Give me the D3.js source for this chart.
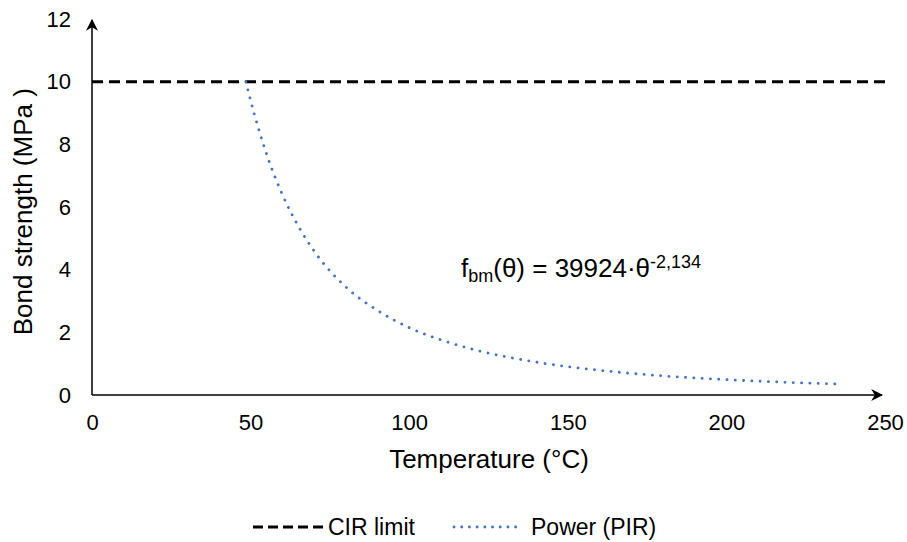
<!DOCTYPE html>
<html>
<head>
<meta charset="utf-8">
<script src="https://cdn.jsdelivr.net/npm/d3@7/dist/d3.min.js"></script>
<style>
  body { margin: 0; background: #fff; }
  #chart { width: 907px; height: 542px; }
  text { font-family: "Liberation Sans", Arial, sans-serif; fill: #000; }
</style>
</head>
<body>
<div id="chart"></div>
<script>
// values
var xTicks = [0, 50, 100, 150, 200, 250];
var yTicks = [0, 2, 4, 6, 8, 10, 12];
var cirLimit = [[0, 10], [250, 10]];
var powerTemp = [48.5, 50, 55, 60, 65, 70, 80, 90, 100, 110, 120, 140, 160, 180, 200, 220, 235];
var powerBond = [10.0, 9.4, 7.7, 6.4, 5.4, 4.6, 3.45, 2.7, 2.15, 1.76, 1.46, 1.05, 0.79, 0.61, 0.49, 0.40, 0.35];
var legendNames = ["CIR limit", "Power (PIR)"];

var width = 907, height = 542;
var margin = {top: 19, left: 92, right: 22, bottom: 147};

var svg = d3.select("#chart").append("svg")
    .attr("width", width)
    .attr("height", height);

var xScale = d3.scaleLinear()
    .domain([0, 250])
    .range([margin.left, width - margin.right]);

var yScale = d3.scaleLinear()
    .domain([0, 12])
    .range([height - margin.bottom, margin.top]);

// arrow heads
var defs = svg.append("defs");
defs.append("marker")
    .attr("id", "arrow")
    .attr("viewBox", "0 0 10 10")
    .attr("refX", 9).attr("refY", 5)
    .attr("markerWidth", 12).attr("markerHeight", 12)
    .attr("markerUnits", "userSpaceOnUse")
    .attr("orient", "auto")
  .append("path")
    .attr("d", "M0,0 L10,5 L0,10 L3,5 Z")
    .attr("fill", "#000");

// axes (labels only, domain drawn as arrows)
var xAxis = svg.append("g")
    .attr("transform", "translate(0," + yScale(0) + ")")
    .call(d3.axisBottom(xScale).tickValues(xTicks).tickSize(0).tickPadding(19));
xAxis.select(".domain").remove();
xAxis.selectAll(".tick text")
    .style("font-size", "22px")
    .style("font-family", "Liberation Sans, Arial, sans-serif");

var yAxis = svg.append("g")
    .attr("transform", "translate(" + xScale(0) + ",0)")
    .call(d3.axisLeft(yScale).tickValues(yTicks).tickSize(0).tickPadding(21));
yAxis.select(".domain").remove();
yAxis.selectAll(".tick text")
    .style("font-size", "22px")
    .style("font-family", "Liberation Sans, Arial, sans-serif");

svg.append("line")
    .attr("x1", xScale(0)).attr("y1", yScale(0))
    .attr("x2", xScale(250) - 3).attr("y2", yScale(0))
    .attr("stroke", "#000").attr("stroke-width", 1.5)
    .attr("marker-end", "url(#arrow)");

svg.append("line")
    .attr("x1", xScale(0)).attr("y1", yScale(0))
    .attr("x2", xScale(0)).attr("y2", yScale(12) + 1)
    .attr("stroke", "#000").attr("stroke-width", 1.5)
    .attr("marker-end", "url(#arrow)");

// axis titles
svg.append("text")
    .attr("x", 489)
    .attr("y", 468)
    .attr("text-anchor", "middle")
    .style("font-size", "26px")
    .text("Temperature (°C)");

svg.append("text")
    .attr("transform", "translate(32," + yScale(5.85) + ")rotate(-90)")
    .attr("text-anchor", "middle")
    .style("font-size", "26px")
    .text("Bond strength (MPa )");

var line = d3.line()
    .x(function(d) { return xScale(d[0]); })
    .y(function(d) { return yScale(d[1]); });

// CIR limit
svg.append("path")
    .datum(cirLimit)
    .attr("d", line)
    .attr("fill", "none")
    .attr("stroke", "#000")
    .attr("stroke-width", 3)
    .attr("stroke-dasharray", "11,6");

// power trendline
var powerData = powerTemp.map(function(t, i) { return [t, powerBond[i]]; });
var curve = d3.line()
    .x(function(d) { return xScale(d[0]); })
    .y(function(d) { return yScale(d[1]); })
    .curve(d3.curveMonotoneX);

svg.append("path")
    .datum(powerData)
    .attr("d", curve)
    .attr("fill", "none")
    .attr("stroke", "#4472C4")
    .attr("stroke-width", 2.8)
    .attr("stroke-linecap", "round")
    .attr("stroke-dasharray", "0.1,8.2");

// equation
var eq = svg.append("text")
    .attr("x", 461)
    .attr("y", 277)
    .style("font-size", "26px");
eq.append("tspan").text("f");
eq.append("tspan").attr("dy", 5).style("font-size", "18px").text("bm");
eq.append("tspan").attr("dy", -5).text("(θ) = 39924·θ");
eq.append("tspan").attr("dy", -9).style("font-size", "18px").text("-2,134");

// legend
var legend = svg.append("g").attr("transform", "translate(0,527)");
legend.append("line")
    .attr("x1", 253).attr("x2", 323).attr("y1", 0).attr("y2", 0)
    .attr("stroke", "#000").attr("stroke-width", 3)
    .attr("stroke-dasharray", "10,5");
legend.append("text")
    .attr("x", 328).attr("y", 8)
    .style("font-size", "23px")
    .text(legendNames[0]);
legend.append("line")
    .attr("x1", 454).attr("x2", 523).attr("y1", 0).attr("y2", 0)
    .attr("stroke", "#4472C4").attr("stroke-width", 2.8)
    .attr("stroke-linecap", "round")
    .attr("stroke-dasharray", "0.1,7.6");
legend.append("text")
    .attr("x", 531).attr("y", 8)
    .style("font-size", "23px")
    .text(legendNames[1]);
</script>
</body>
</html>
